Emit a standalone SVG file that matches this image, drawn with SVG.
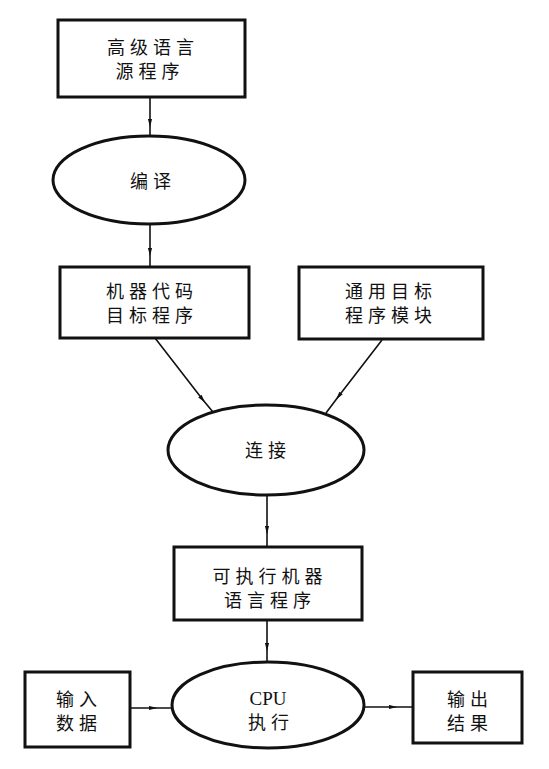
<svg xmlns="http://www.w3.org/2000/svg" width="549" height="769" viewBox="0 0 549 769">
<defs>
<marker id="ah" viewBox="0 0 10 6" refX="6" refY="3" markerWidth="9" markerHeight="5" markerUnits="userSpaceOnUse" orient="auto">
<path d="M0,0.5 L10,3 L0,5.5 Z" fill="#111"/>
</marker>
</defs>
<style>
.box{fill:#fff;stroke:#111;stroke-width:3}
.ell{fill:#fff;stroke:#111;stroke-width:3}
.cn{fill:none;stroke:#111;stroke-width:1.6}
.t{font-family:"Noto Sans CJK SC","Noto Sans",sans-serif;font-size:18px;fill:#111;text-anchor:middle;letter-spacing:5px}
.s{font-family:"Liberation Serif","Noto Sans CJK SC",serif;font-size:19px;fill:#111;text-anchor:middle}
</style>
<rect width="549" height="769" fill="#fff"/>
<g id="connectors">
<path class="cn" d="M150,97 L150,124 L150,137" marker-mid="url(#ah)"/>
<path class="cn" d="M150,224 L150,253 L150,267" marker-mid="url(#ah)"/>
<path class="cn" d="M155,338 L203,400 L213,412" marker-mid="url(#ah)"/>
<path class="cn" d="M382,340 L338,397 L326,413" marker-mid="url(#ah)"/>
<path class="cn" d="M267,495 L267,531 L267,547" marker-mid="url(#ah)"/>
<path class="cn" d="M267,620 L267,648 L267,663" marker-mid="url(#ah)"/>
<path class="cn" d="M130,708 L154,708 L173,708" marker-mid="url(#ah)"/>
<path class="cn" d="M364,707 L394,707 L413,707" marker-mid="url(#ah)"/>
</g>
<g id="src">
<rect class="box" x="58" y="20" width="187" height="77"/>
<text class="t" x="153" y="54">高级语言</text>
<text class="t" x="150" y="78">源程序</text>
</g>
<g id="compile">
<ellipse class="ell" cx="149" cy="180" rx="96" ry="44"/>
<text class="t" x="153" y="188">编译</text>
</g>
<g id="obj">
<rect class="box" x="60" y="267" width="189" height="71"/>
<text class="t" x="152" y="298">机器代码</text>
<text class="t" x="152" y="322">目标程序</text>
</g>
<g id="lib">
<rect class="box" x="299" y="267" width="184" height="72"/>
<text class="t" x="391" y="298">通用目标</text>
<text class="t" x="391" y="322">程序模块</text>
</g>
<g id="link">
<ellipse class="ell" cx="266" cy="450" rx="98" ry="45"/>
<text class="t" x="268" y="457">连接</text>
</g>
<g id="exe">
<rect class="box" x="174" y="547" width="188" height="73"/>
<text class="t" x="270" y="583">可执行机器</text>
<text class="t" x="270" y="607">语言程序</text>
</g>
<g id="cpu">
<ellipse class="ell" cx="268" cy="705" rx="96" ry="43"/>
<text class="s" x="268" y="705">CPU</text>
<text class="t" x="271" y="729">执行</text>
</g>
<g id="in">
<rect class="box" x="25" y="672" width="105" height="75"/>
<text class="t" x="79" y="706">输入</text>
<text class="t" x="79" y="730">数据</text>
</g>
<g id="out">
<rect class="box" x="413" y="672" width="109" height="71"/>
<text class="t" x="470" y="706">输出</text>
<text class="t" x="470" y="730">结果</text>
</g>
</svg>
